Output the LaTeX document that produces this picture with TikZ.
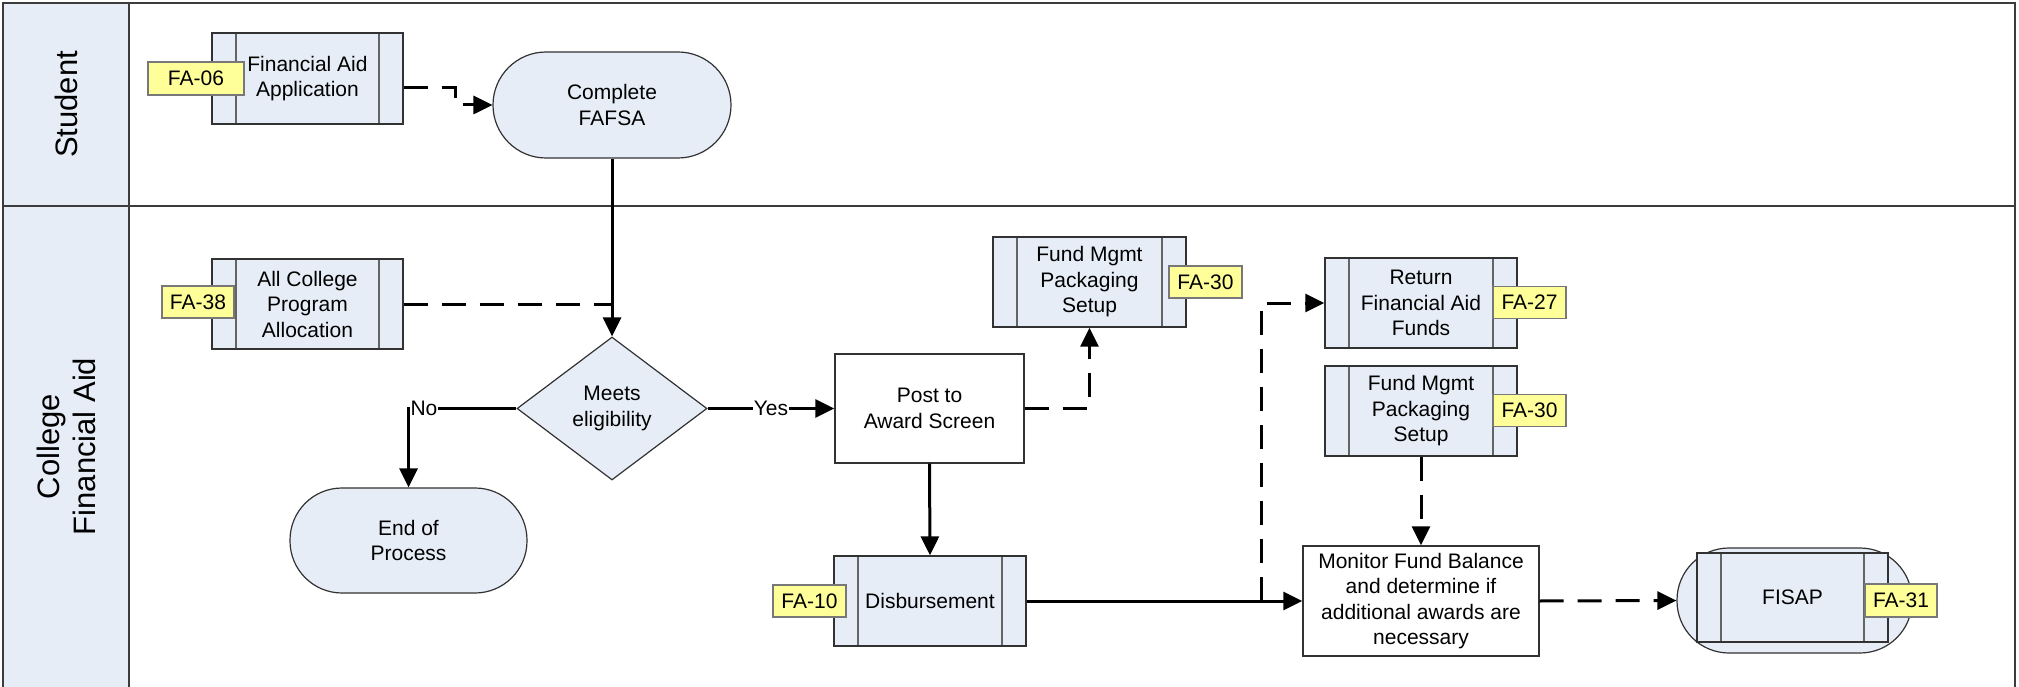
\documentclass[tikz,border=0pt]{standalone}
\usepackage{fontspec}
\setmainfont{Liberation Sans}
\usetikzlibrary{shapes.geometric,arrows.meta,calc}
\definecolor{boxfill}{RGB}{231,237,247}
\definecolor{tagfill}{RGB}{255,255,153}
\definecolor{tagline}{RGB}{120,120,120}
\definecolor{boxline}{RGB}{50,50,50}
\definecolor{innerline}{RGB}{100,100,100}
\definecolor{laneline}{RGB}{60,60,60}
\begin{document}
\begin{tikzpicture}[x=1pt,y=-1pt,
  every node/.style={font=\fontsize{21}{25.5}\selectfont, inner sep=0pt, align=center},
  predef/.style={draw=boxline, fill=boxfill, line width=1.3pt, minimum width=192pt, minimum height=90pt,
    path picture={\draw[innerline, line width=1.3pt]
      ([xshift=24pt]path picture bounding box.north west) -- ([xshift=24pt]path picture bounding box.south west)
      ([xshift=-24pt]path picture bounding box.north east) -- ([xshift=-24pt]path picture bounding box.south east);}},
  tag/.style={draw=tagline, fill=tagfill, line width=1.2pt, minimum width=73pt, minimum height=32pt},
  term/.style={draw=boxline, fill=boxfill, line width=1.2pt, rounded corners=52pt, minimum width=237pt, minimum height=105pt},
  proc/.style={draw=boxline, fill=white, line width=1.3pt},
  decision/.style={diamond, draw=boxline, fill=boxfill, line width=1.2pt, minimum width=190pt, minimum height=143pt, aspect=1.33},
  flow/.style={draw=black, line width=3pt, -{Triangle[length=19pt,width=18pt]}},
  dflow/.style={flow, dash pattern=on 24pt off 14pt},
  dline/.style={draw=black, line width=3pt, dash pattern=on 24pt off 14pt},
  lanelabel/.style={font=\fontsize{31}{36}\selectfont, rotate=90},
  lane/.style={draw=laneline, line width=2pt}
]
\useasboundingbox (0,0) rectangle (2019,687);
% lanes
\fill[boxfill] (3,3) rectangle (129,692);
\draw[lane] (3,692) -- (3,3) -- (2015,3) -- (2015,692);
\draw[lane] (129,3) -- (129,692);
\draw[lane] (3,206) -- (2015,206);
\node[lanelabel] (lstudent) at (66,104.5) {Student};
\node[lanelabel] (lcollege) at (66,446.5) {College\\Financial Aid};

% student lane
\node[predef, minimum width=191pt, minimum height=91pt] (fa06box) at (307.5,78.5) {Financial Aid\\Application};
\node[tag, minimum width=96pt, minimum height=33pt] (fa06tag) at (196,78.5) {FA-06};
\node[term, minimum width=238pt, minimum height=106pt, rounded corners=53pt] (fafsa) at (612,105) {Complete\\FAFSA};

% college lane
\node[predef, minimum width=191pt] (fa38box) at (307.5,304) {All College\\Program\\Allocation};
\node[tag, minimum width=72pt] (fa38tag) at (198,302) {FA-38};
\node[decision] (dec) at (612,408.5) {Meets\\eligibility};
\node[term] (endp) at (408.5,540.5) {End of\\Process};
\node[proc, minimum width=189pt, minimum height=109pt] (post) at (929.5,408.5) {Post to\\Award Screen};
\node[predef] (disb) at (930,601) {Disbursement};
\node[tag] (fa10tag) at (809.5,601) {FA-10};
\node[predef, minimum width=193pt] (fm1) at (1089.5,282) {Fund Mgmt\\Packaging\\Setup};
\node[tag] (fa30tag1) at (1205.5,282) {FA-30};
\node[predef] (ret) at (1421,303) {Return\\Financial Aid\\Funds};
\node[tag] (fa27tag) at (1529.5,302.5) {FA-27};
\node[predef] (fm2) at (1421,411) {Fund Mgmt\\Packaging\\Setup};
\node[tag] (fa30tag2) at (1529.5,410.5) {FA-30};
\node[proc, minimum width=236pt, minimum height=110pt] (mon) at (1421,601) {Monitor Fund Balance\\and determine if\\additional awards are\\necessary};
\node[term, minimum width=235pt] (fisapterm) at (1794.5,600.5) {};
\node[predef, minimum width=191pt, minimum height=89pt] (fisap) at (1792.5,597.5) {FISAP};
\node[tag, minimum width=72pt, minimum height=33pt] (fa31tag) at (1901,600.5) {FA-31};

% connectors
\draw[dflow] ([yshift=-9.5pt]fa06box.east) -- ++(52,0) |- (fafsa.west);
\draw[flow] (fafsa.south) -- (dec.north);
\draw[dline] (fa38box.east) -- (fa38box.east -| fafsa.south);
\draw[flow] (dec.west) -- (dec.west -| endp.north) node[fill=white, anchor=west, inner sep=0.5pt] (nolbl) {No} -- (endp.north);
\draw[flow] (dec.east) -- node[fill=white, inner sep=1pt] (yeslbl) {Yes} (post.west);
\draw[dflow] (post.east) -| (fm1.south);
\draw[flow] (post.south) -- (disb.north);
\draw[flow] (disb.east) -- (mon.west);
\coordinate (split) at (1261,601);
\draw[dflow] (split) |- (ret.west);
\draw[dflow] (fm2.south) -- (mon.north);
\draw[dflow] (mon.east) -- (fisapterm.west);
\end{tikzpicture}
\end{document}
